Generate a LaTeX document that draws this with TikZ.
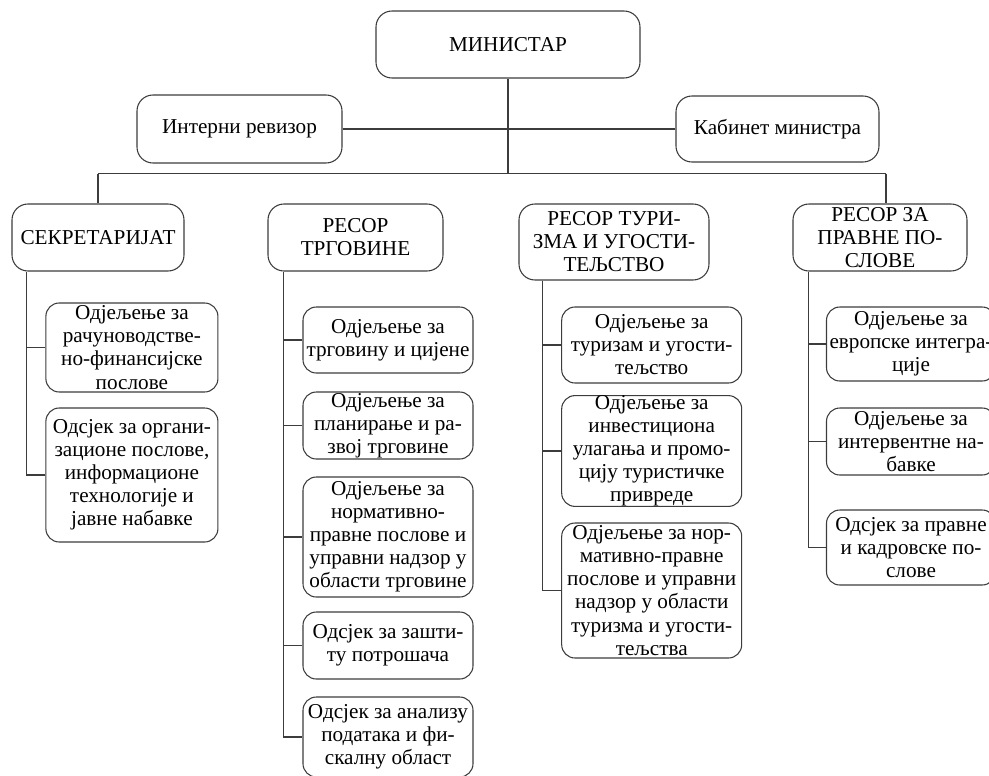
\documentclass[tikz,border=0pt]{standalone}
\usepackage{fontspec}
\setmainfont{Liberation Serif}
\definecolor{linec}{HTML}{3C3C3C}
\begin{document}
\begin{tikzpicture}[x=0.75pt,y=-0.75pt,
  box/.style={draw=linec, line width=0.8pt, rounded corners=10pt, align=center, inner sep=0pt,
    font=\fontsize{15.9}{17.3}\selectfont},
  sz/.style 2 args={minimum width=#1*0.75pt, minimum height=#2*0.75pt},
  conn/.style={draw=linec, line width=0.8pt}]
\useasboundingbox (0,0) rectangle (989,775);
\clip (0,0) rectangle (989,775);
% top level
\node[box,sz={264}{67},rounded corners=12pt] (min) at (508,44.5) {МИНИСТАР};
\node[box,sz={205}{68},rounded corners=12pt] (int) at (239.5,129) {Интерни ревизор};
\node[box,sz={203}{66},rounded corners=12pt] (kab) at (777.5,129) {Кабинет министра};
% second level
\node[box,sz={172}{67},rounded corners=12pt] (sek) at (98,237.5) {СЕКРЕТАРИЈАТ};
\node[box,sz={175}{67},rounded corners=12pt] (trg) at (355.5,237.5) {РЕСОР\\ТРГОВИНЕ};
\node[box,sz={190}{76},rounded corners=12pt] (tur) at (614,242) {РЕСОР ТУРИ-\\ЗМА И УГОСТИ-\\ТЕЉСТВО};
\node[box,sz={174}{67},rounded corners=12pt] (prv) at (880,237.5) {РЕСОР ЗА\\ПРАВНЕ ПО-\\СЛОВЕ};
% sekretarijat
\node[box,sz={172}{89}] (s1) at (131.9,347.5) {Одјељење за\\рачуноводстве-\\но-финансијске\\послове};
\node[box,sz={172}{134}] (s2) at (131.9,475) {Одсјек за органи-\\зационе послове,\\информационе\\технологије и\\јавне набавке};
% trgovina
\node[box,sz={170}{66}] (t1) at (388,340) {Одјељење за\\трговину и цијене};
\node[box,sz={170}{67}] (t2) at (388,425.5) {Одјељење за\\планирање и ра-\\звој трговине};
\node[box,sz={170}{120}] (t3) at (388,537) {Одјељење за\\нормативно-\\правне послове и\\управни надзор у\\области трговине};
\node[box,sz={170}{67}] (t4) at (388,645.5) {Одсјек за зашти-\\ту потрошача};
\node[box,sz={170}{80}] (t5) at (388,737) {Одсјек за анализу\\података и фи-\\скалну област};
% turizam
\node[box,sz={180}{76}] (u1) at (651.7,345) {Одјељење за\\туризам и угости-\\тељство};
\node[box,sz={180}{109}] (u2) at (651.7,451) {Одјељење за\\инвестициона\\улагања и промо-\\цију туристичке\\привреде};
\node[box,sz={180}{135}] (u3) at (651.7,590.5) {Одјељење за нор-\\мативно-правне\\послове и управни\\надзор у области\\туризма и угости-\\тељства};
% pravni
\node[box,sz={169}{74}] (p1) at (911,344) {Одјељење за\\европске интегра-\\ције};
\node[box,sz={169}{67}] (p2) at (911,441.5) {Одјељење за\\интервентне на-\\бавке};
\node[box,sz={169}{75}] (p3) at (911,547.5) {Одсјек за правне\\и кадровске по-\\слове};
% connectors top
\coordinate (busL) at (98,173.5);
\coordinate (busR) at (886,173.5);
\draw[conn] (min.south) -- (min.south |- busL);
\draw[conn] (int.east) -- (kab.west);
\draw[conn] (busL) -- (busR);
\draw[conn] (busL) -- (sek.north);
\draw[conn] (busR) -- (busR |- prv.north);
% spines
\coordinate (sx) at (26.7,0);
\coordinate (tx) at (283.3,0);
\coordinate (ux) at (542.3,0);
\coordinate (px) at (808.3,0);
\draw[conn] (sek.south -| sx) |- (s2.west);
\draw[conn] (sx |- s1.west) -- (s1.west);
\draw[conn] (trg.south -| tx) |- (t5.west);
\foreach \n in {t1,t2,t3,t4} \draw[conn] (tx |- \n.west) -- (\n.west);
\draw[conn] (tur.south -| ux) |- (u3.west);
\foreach \n in {u1,u2} \draw[conn] (ux |- \n.west) -- (\n.west);
\draw[conn] (prv.south -| px) |- (p3.west);
\foreach \n in {p1,p2} \draw[conn] (px |- \n.west) -- (\n.west);
\end{tikzpicture}
\end{document}
